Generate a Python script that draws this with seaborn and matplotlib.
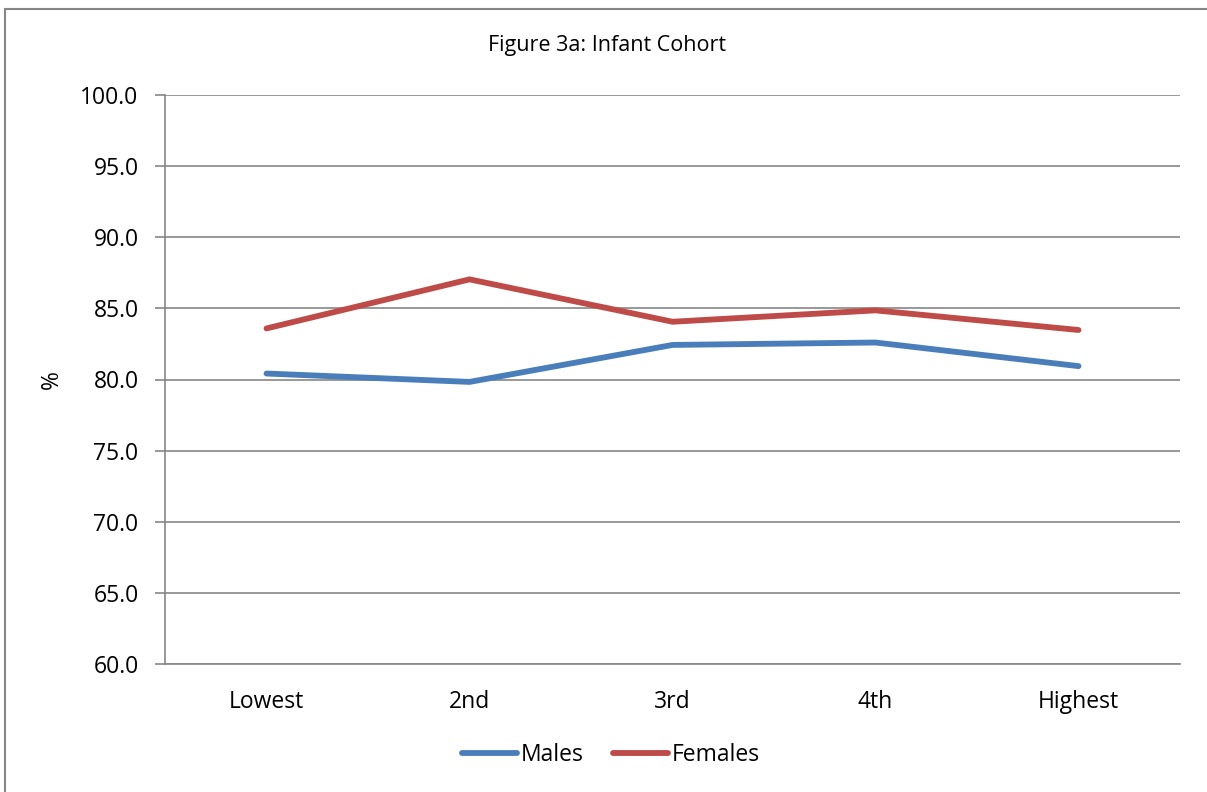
import pandas as pd
import matplotlib
matplotlib.use("Agg")
import matplotlib.pyplot as plt
import seaborn as sns
from matplotlib.lines import Line2D
from matplotlib.ticker import MultipleLocator, FixedLocator

# Values
categories = ['Lowest', '2nd', '3rd', '4th', 'Highest']
males = [80.42, 79.83, 82.43, 82.60, 80.94]
females = [83.59, 87.04, 84.06, 84.86, 83.48]
series_names = ['Males', 'Females']
colors = {'Males': '#4A7EBB', 'Females': '#BE4B48'}
title = 'Figure 3a: Infant Cohort'

# Long-form table for seaborn
df = pd.DataFrame({
    'pos': list(range(len(categories))) * 2,
    'value': males + females,
    'series': ['Males'] * len(males) + ['Females'] * len(females),
})

sns.set_theme(style='white')
plt.rcParams['font.family'] = ['Open Sans', 'DejaVu Sans']
fs = 16.5

fig = plt.figure(figsize=(12.07, 7.92), dpi=100)
ax = fig.add_axes([165 / 1207, 1 - 664 / 792, (1180 - 165) / 1207, (664 - 95) / 792])

sns.lineplot(data=df, x='pos', y='value', hue='series', hue_order=series_names,
             palette=colors, linewidth=4.2, ax=ax, legend=False,
             solid_capstyle='round')

grid_col = '#868686'
ax.set_ylim(60, 100)
ax.set_xlim(-0.5, len(categories) - 0.5)
ax.yaxis.set_major_locator(MultipleLocator(5))
ax.set_yticklabels([f'{v:.1f}' for v in ax.get_yticks()])
ax.grid(axis='y', color=grid_col, linewidth=1.2)
ax.set_axisbelow(True)

# category ticks between groups, labels at centres
ax.set_xticks(range(len(categories)))
ax.set_xticklabels(categories)
ax.xaxis.set_minor_locator(FixedLocator([i - 0.5 for i in range(len(categories) + 1)]))
ax.tick_params(axis='x', which='major', length=0, pad=19, labelsize=fs, labelcolor='black')
ax.tick_params(axis='x', which='minor', length=7, width=1.2, color=grid_col, direction='out')
ax.tick_params(axis='y', length=7, width=1.2, color=grid_col, direction='out',
               labelsize=fs, labelcolor='black', pad=12, left=True)

for side in ['top', 'right']:
    ax.spines[side].set_visible(False)
for side in ['left', 'bottom']:
    ax.spines[side].set_color(grid_col)
    ax.spines[side].set_linewidth(1.2)

ax.set_xlabel('')
ax.set_ylabel('%', fontsize=fs, color='black', labelpad=12)

fig.text(607 / 1207, 1 - 46 / 792, title, ha='center', va='center',
         fontsize=fs - 1, color='black')

handles = [Line2D([], [], color=colors[n], linewidth=4.2, solid_capstyle='round')
           for n in series_names]
leg = fig.legend(handles, series_names, loc='center', bbox_to_anchor=(611 / 1207, 1 - 755 / 792),
                 ncol=2, frameon=False, fontsize=fs, handlelength=2.4, handletextpad=0.15,
                 columnspacing=1.3)
for t in leg.get_texts():
    t.set_color('black')

# outer chart border: only its top and left edges fall inside the image
top_y = 1 - 9 / 792
left_x = 5 / 1207
fig.add_artist(Line2D([left_x, 1.1], [top_y, top_y], transform=fig.transFigure,
                      color=grid_col, linewidth=1.5))
fig.add_artist(Line2D([left_x, left_x], [-0.1, top_y], transform=fig.transFigure,
                      color=grid_col, linewidth=1.5))

fig.savefig('out.png', dpi=100, facecolor='white')
